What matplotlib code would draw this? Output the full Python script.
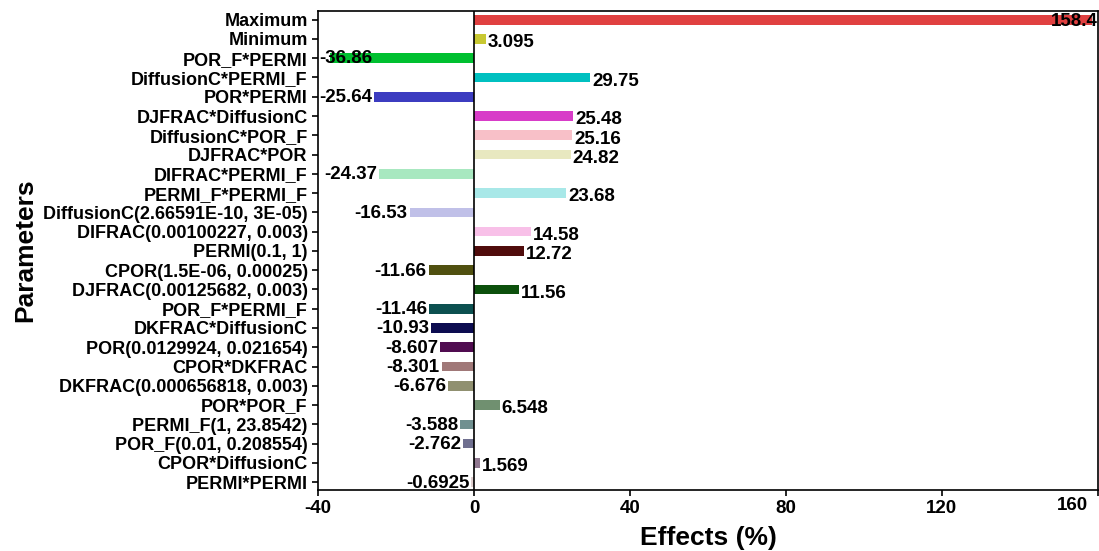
import matplotlib
matplotlib.use("Agg")
import matplotlib.pyplot as plt

plt.rcParams["font.family"] = ["Liberation Sans", "DejaVu Sans"]
plt.rcParams["font.weight"] = "bold"

PARAMS = [
    "Maximum", "Minimum", "POR_F*PERMI", "DiffusionC*PERMI_F", "POR*PERMI",
    "DJFRAC*DiffusionC", "DiffusionC*POR_F", "DJFRAC*POR", "DIFRAC*PERMI_F",
    "PERMI_F*PERMI_F", "DiffusionC(2.66591E-10, 3E-05)", "DIFRAC(0.00100227, 0.003)",
    "PERMI(0.1, 1)", "CPOR(1.5E-06, 0.00025)", "DJFRAC(0.00125682, 0.003)",
    "POR_F*PERMI_F", "DKFRAC*DiffusionC", "POR(0.0129924, 0.021654)", "CPOR*DKFRAC",
    "DKFRAC(0.000656818, 0.003)", "POR*POR_F", "PERMI_F(1, 23.8542)",
    "POR_F(0.01, 0.208554)", "CPOR*DiffusionC", "PERMI*PERMI",
]
EFFECTS = [
    158.4, 3.095, -36.86, 29.75, -25.64, 25.48, 25.16, 24.82, -24.37, 23.68,
    -16.53, 14.58, 12.72, -11.66, 11.56, -11.46, -10.93, -8.607, -8.301, -6.676,
    6.548, -3.588, -2.762, 1.569, -0.6925,
]
LABELS = [
    "158.4", "3.095", "-36.86", "29.75", "-25.64", "25.48", "25.16", "24.82", "-24.37",
    "23.68", "-16.53", "14.58", "12.72", "-11.66", "11.56", "-11.46", "-10.93",
    "-8.607", "-8.301", "-6.676", "6.548", "-3.588", "-2.762", "1.569", "-0.6925",
]
COLORS = [
    "#e04040", "#c8c832", "#00c030", "#00c0c0", "#3c3cc0", "#d83cc8", "#f8c0c8",
    "#e8e8c0", "#a8e8c0", "#a8e8e8", "#c0c0e8", "#f8c0e8", "#500c0c", "#505010",
    "#0c500c", "#0c5050", "#0c0c50", "#500c50", "#a07878", "#909070", "#709070",
    "#709090", "#707090", "#907890", "#e0d0d0",
]
XTICKS = [-40, 0, 40, 80, 120, 160]

XMIN, XMAX = -40, 160
FS = 13.5

fig = plt.figure(figsize=(10.99, 5.51), dpi=100)
ax = fig.add_axes([0.2894, 0.111, 0.7096, 0.869])

ypos = list(range(len(PARAMS)))
ax.barh(ypos, EFFECTS, height=0.5, color=COLORS, zorder=2)
ax.axvline(0, color="black", linewidth=1.2, zorder=3)

for y, v, lab in zip(ypos, EFFECTS, LABELS):
    if v >= 0:
        if v > 140:
            ax.text(XMAX, y + 0.1, lab, ha="right", va="center", fontsize=FS, fontweight="bold", zorder=4)
        else:
            ax.text(v + 0.5, y + 0.2, lab, ha="left", va="center", fontsize=FS, fontweight="bold", zorder=4)
    else:
        if v < -30:
            ax.text(XMIN + 0.3, y, lab, ha="left", va="center", fontsize=FS, fontweight="bold", zorder=4)
        else:
            ax.text(v - 0.5, y + 0.05, lab, ha="right", va="center", fontsize=FS, fontweight="bold", zorder=4)

ax.set_yticks(ypos)
ax.set_yticklabels(PARAMS, fontsize=13, fontweight="bold")
ax.set_ylim(len(PARAMS) - 0.6, -0.45)
ax.set_xlim(XMIN, XMAX)
ax.set_xticks(XTICKS)
# last tick label is pulled inward so it fits in the figure
ax.set_xticklabels([str(t) for t in XTICKS[:-1]] + [""], fontsize=13.5, fontweight="bold")
ax.annotate(str(XTICKS[-1]), xy=(XTICKS[-1], 0), xycoords=ax.get_xaxis_transform(),
            xytext=(-25, -7), textcoords="offset pixels", ha="center", va="top",
            fontsize=13.5, fontweight="bold")
ax.tick_params(axis="both", length=4, width=1.2, colors="black")
for s in ax.spines.values():
    s.set_linewidth(1.2)

ax.set_xlabel("Effects (%)", fontsize=19, fontweight="bold", labelpad=6)
ax.set_ylabel("Parameters", fontsize=19, fontweight="bold", labelpad=4)

fig.savefig("out.png", dpi=100, facecolor="white")
